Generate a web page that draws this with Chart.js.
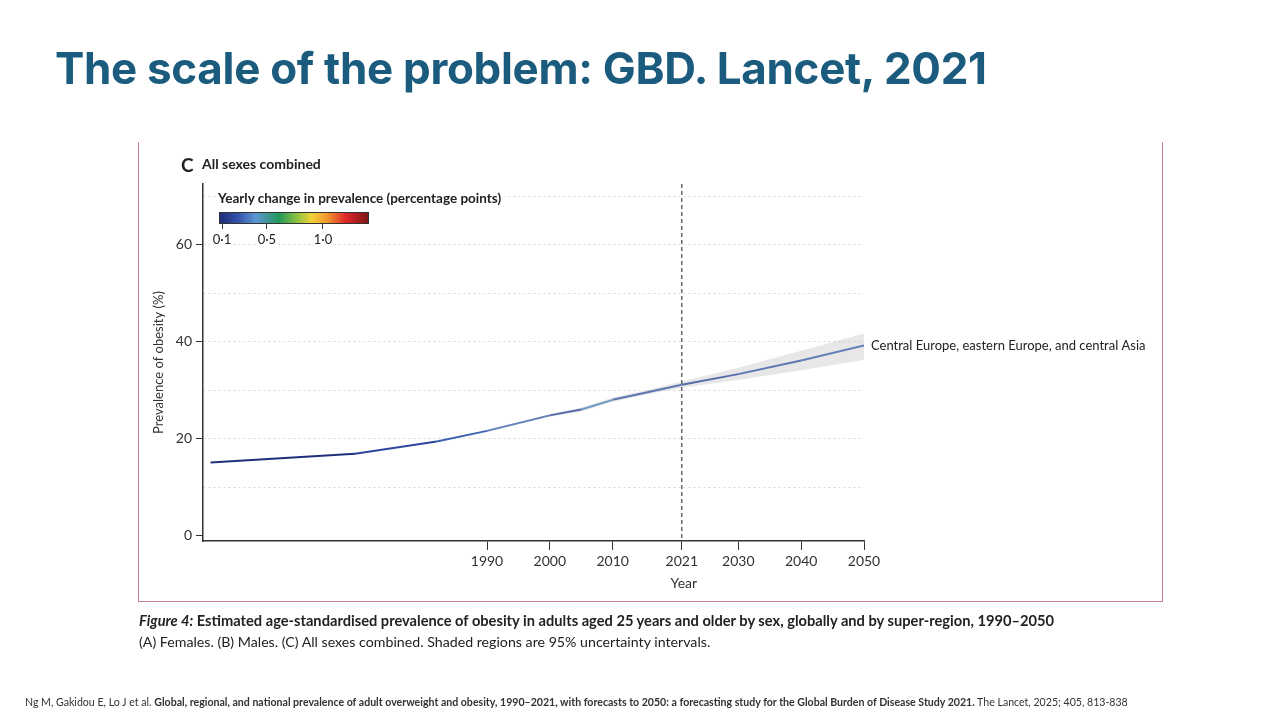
<!DOCTYPE html>
<html>
<head>
<meta charset="utf-8">
<script src="https://cdn.jsdelivr.net/npm/chart.js@4.4.1/dist/chart.umd.min.js"></script>
<style>
  html, body { margin: 0; padding: 0; background: #fff; }
  #wrap { position: relative; width: 1280px; height: 720px; overflow: hidden; font-family: Lato, "Open Sans", sans-serif; color: #222; }
  #wrap canvas { position: absolute; left: 0; top: 0; }
  .abs { position: absolute; white-space: nowrap; line-height: 1; }
  #title { left: 55px; top: 47px; font-family: Inter, sans-serif; font-weight: 700; font-size: 44px; color: #1b5c7e; letter-spacing: -0.3px; }
  #box { position: absolute; left: 138px; top: 142px; width: 1025px; height: 460px; box-sizing: border-box; border: 1px solid #cc7d96; border-top: none; }
  #panelC { left: 181px; top: 155px; font-weight: 700; font-size: 19px; }
  #panelTxt { left: 202px; top: 157px; font-weight: 700; font-size: 14px; }
  #cbTitle { left: 218px; top: 192px; font-weight: 700; font-size: 13.5px; background: #fff; padding-right: 4px; z-index: 2; }
  #cbBar { position: absolute; left: 219px; top: 212px; width: 150px; height: 12px; box-sizing: border-box; border: 1px solid #333; z-index: 2; }
  .cbTick { position: absolute; top: 224px; width: 1px; height: 5px; background: #333; z-index: 2; }
  .cbLab { top: 233px; font-size: 13px; background: #fff; transform: translateX(-50%); z-index: 2; padding: 0 1px; }
  #cap1 { left: 139px; top: 614px; font-weight: 700; font-size: 15px; color: #222; }
  #cap2 { left: 139px; top: 635px; font-size: 15px; color: #222; }
  #foot { left: 25px; top: 697px; font-size: 9px; color: #333; }
</style>
</head>
<body>
<div id="wrap">
  <div id="box"></div>
  <canvas id="chart" width="1280" height="720"></canvas>
  <div id="title" class="abs">The scale of the problem: GBD. Lancet, 2021</div>
  <div id="panelC" class="abs">C</div>
  <div id="panelTxt" class="abs">All sexes combined</div>
  <div id="cbTitle" class="abs">Yearly change in prevalence (percentage points)</div>
  <div id="cbBar"></div>
  <div id="cap1" class="abs"><i>Figure 4:</i> Estimated age-standardised prevalence of obesity in adults aged 25 years and older by sex, globally and by super-region, 1990–2050</div>
  <div id="cap2" class="abs">(A) Females. (B) Males. (C) All sexes combined. Shaded regions are 95% uncertainty intervals.</div>
  <div id="foot" class="abs">Ng M, Gakidou E, Lo J et al. <b>Global, regional, and national prevalence of adult overweight and obesity, 1990–2021, with forecasts to 2050: a forecasting study for the Global Burden of Disease Study 2021.</b> The Lancet, 2025; 405, 813-838</div>
</div>
<script>
// prevalence of obesity (%), central Europe, eastern Europe and central Asia
const years = [1946, 1969, 1982, 1990, 2000, 2005, 2010, 2015, 2021, 2030, 2040, 2050];
const prevalence = [15.1, 16.9, 19.4, 21.6, 24.8, 26.0, 28.0, 29.4, 31.1, 33.3, 36.1, 39.2];

// 95% uncertainty interval
const bandYears = [1990, 2000, 2005, 2010, 2015, 2021, 2030, 2040, 2050];
const bandLower = [21.4, 24.5, 25.6, 27.6, 29.0, 30.5, 32.1, 34.1, 36.2];
const bandUpper = [21.8, 25.1, 26.4, 28.5, 29.9, 31.8, 34.6, 38.1, 41.7];

const xTicks = [1990, 2000, 2010, 2021, 2030, 2040, 2050];
const yTicks = [0, 10, 20, 30, 40, 50, 60, 70];
const yLabels = [0, 20, 40, 60];
const forecastStart = 2021;
const regionLabel = "Central Europe, eastern Europe, and central Asia";

const cbTickValues = [0.1, 0.5, 1.0];
const cbTickLabels = ["0·1", "0·5", "1·0"];

// colour bar (fraction along bar -> colour)
const cbStops = [[0, "#1f2d7b"], [0.12, "#3351a8"], [0.24, "#5d95d3"], [0.40, "#22985a"], [0.52, "#8cc341"],
                 [0.62, "#f4d13b"], [0.72, "#f29a2f"], [0.85, "#e0262a"], [1, "#7b1717"]];
const cbPos = v => (3 + (v - 0.1) * 112.2) / 150;

function hexToRgb(h) { return [1, 3, 5].map(i => parseInt(h.substr(i, 2), 16)); }
function colourFor(v) {
    const f = Math.max(0, Math.min(1, cbPos(v)));
    for (let i = 1; i < cbStops.length; i++) {
        if (f <= cbStops[i][0]) {
            const [f0, c0] = cbStops[i - 1], [f1, c1] = cbStops[i];
            const t = (f - f0) / (f1 - f0);
            const a = hexToRgb(c0), b = hexToRgb(c1);
            return `rgb(${a.map((x, k) => Math.round(x + (b[k] - x) * t)).join(",")})`;
        }
    }
    return cbStops[cbStops.length - 1][1];
}

// legend bar + ticks
const bar = document.getElementById("cbBar");
bar.style.background = `linear-gradient(to right, ${cbStops.map(s => `${s[1]} ${s[0] * 100}%`).join(", ")})`;
cbTickValues.forEach((v, i) => {
    const x = 219 + cbPos(v) * 150;
    const t = document.createElement("div");
    t.className = "cbTick";
    t.style.left = (x - 0.5) + "px";
    document.getElementById("wrap").appendChild(t);
    const l = document.createElement("div");
    l.className = "abs cbLab";
    l.style.left = x + "px";
    l.textContent = cbTickLabels[i];
    document.getElementById("wrap").appendChild(l);
});

function fitText(id, width) {
    const el = document.getElementById(id);
    const fs = parseFloat(getComputedStyle(el).fontSize);
    el.style.fontSize = (fs * width / el.getBoundingClientRect().width) + "px";
}
fitText("title", 932);
fitText("cap1", 916);
fitText("cap2", 572);
fitText("foot", 1105);

const toPoints = (xs, ys) => xs.map((x, i) => ({ x: x, y: ys[i] }));

const overlay = {
    id: "overlay",
    afterDatasetsDraw(chart) {
        const { ctx, chartArea, scales: { x, y } } = chart;
        const xf = x.getPixelForValue(forecastStart);
        ctx.save();
        ctx.strokeStyle = "#444";
        ctx.lineWidth = 1.2;
        ctx.setLineDash([4, 3]);
        ctx.beginPath();
        ctx.moveTo(xf, chartArea.top);
        ctx.lineTo(xf, chartArea.bottom);
        ctx.stroke();
        ctx.setLineDash([]);
        const n = years.length - 1;
        ctx.fillStyle = "#222";
        ctx.font = "13px Lato, 'Open Sans', sans-serif";
        ctx.textBaseline = "middle";
        ctx.fillText(regionLabel, x.getPixelForValue(years[n]) + 7, y.getPixelForValue(prevalence[n]));
        // axis title, centred under the forecast marker as in the figure
        ctx.fillStyle = "#333";
        ctx.font = "14px Lato, 'Open Sans', sans-serif";
        ctx.textAlign = "center";
        ctx.fillText("Year", xf + 2, chartArea.bottom + 42);
        ctx.restore();
    }
};

new Chart(document.getElementById("chart"), {
    type: "line",
    data: {
        datasets: [
            {
                data: toPoints(bandYears, bandLower),
                borderWidth: 0, pointRadius: 0, fill: false
            },
            {
                data: toPoints(bandYears, bandUpper),
                borderWidth: 0, pointRadius: 0, fill: "-1",
                backgroundColor: "rgba(170,170,170,0.28)"
            },
            {
                data: toPoints(years, prevalence),
                borderWidth: 2, pointRadius: 0, fill: false,
                borderColor: "#3a5ba8",
                segment: {
                    borderColor: c => colourFor((c.p1.parsed.y - c.p0.parsed.y) / (c.p1.parsed.x - c.p0.parsed.x))
                }
            }
        ]
    },
    options: {
        responsive: false,
        animation: false,
        devicePixelRatio: 1,
        layout: { padding: { left: 143, right: 416, top: 184, bottom: 129 } },
        plugins: { legend: { display: false }, tooltip: { enabled: false } },
        scales: {
            x: {
                type: "linear",
                min: 1944.8,
                max: 2050,
                afterBuildTicks: s => { s.ticks = xTicks.map(v => ({ value: v })); },
                afterFit: s => { s.height = 50; },
                grid: { drawOnChartArea: false, color: "#333", tickLength: 9 },
                border: { color: "#333", width: 1.5 },
                ticks: { color: "#333", font: { family: "Lato", size: 14 }, maxRotation: 0, autoSkip: false, padding: 3,
                         callback: v => String(v) },
                title: { display: false }
            },
            y: {
                min: -1.1,
                max: 72.5,
                afterBuildTicks: s => { s.ticks = yTicks.map(v => ({ value: v })); },
                afterFit: s => { s.width = 60; },
                grid: {
                    color: c => c.tick && c.tick.value === 0 ? "rgba(0,0,0,0)" : "#d9d9d9",
                    tickColor: c => yLabels.includes(c.tick.value) ? "#333" : "rgba(0,0,0,0)",
                    tickLength: 7
                },
                border: { color: "#333", width: 1.5, dash: [2, 3] },
                ticks: { color: "#333", font: { family: "Lato", size: 14 }, padding: 4,
                         callback: v => yLabels.includes(v) ? String(v) : "" },
                title: { display: true, text: "Prevalence of obesity (%)", color: "#333", font: { family: "Lato", size: 13 }, padding: { top: 8, bottom: 0 } }
            }
        }
    },
    plugins: [overlay]
});
</script>
</body>
</html>
